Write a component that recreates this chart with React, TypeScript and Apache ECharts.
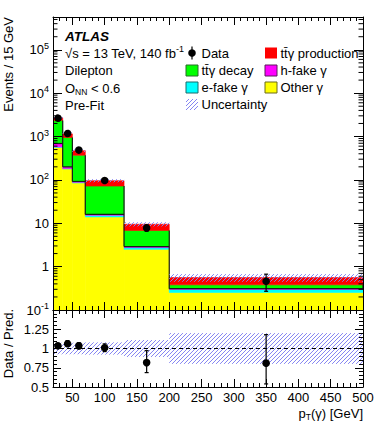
import React, { useEffect, useRef } from "react";
import * as echarts from "echarts";

// ---------- values ----------
const binEdges = [20, 35, 50, 70, 130, 200, 500];
const otherGamma = [560, 178, 85, 14, 2.5, 0.254];
const eFakeGamma = [15, 5, 3, 1.2, 0.25, 0.044];
const hFakeGamma = [115, 17, 4, 0.8, 0.15, 0.012];
const ttgDecay = [1660, 750, 278, 56, 3.9, 0.07];
const ttgProduction = [350, 200, 100, 24, 2.7, 0.18];
const dataX = [27.5, 42.5, 60, 100, 165, 350];
const dataY = [2830, 1230, 487, 97, 7.8, 0.46];
const dataErrUp = [53, 35, 19, 5, 1.35, 0.21];
const dataErrDown = [53, 35, 19, 5, 1.25, 0.19];
const relUncertainty = [0.075, 0.075, 0.075, 0.08, 0.11, 0.2];
const ratioY = [1.047, 1.073, 1.035, 1.01, 0.817, 0.81];
const ratioErrUp = [0.02, 0.03, 0.04, 0.05, 0.155, 0.37];
const ratioErrDown = [0.02, 0.03, 0.04, 0.05, 0.13, 0.27];
const xTickValues = [50, 100, 150, 200, 250, 300, 350, 400, 450, 500];
const ratioTickLabels = ["0.5", "0.75", "1", "1.25"];

const X_MIN = 20;
const X_MAX = 500;
const Y_MIN = 0.1;
const Y_MAX = 5.7e5;
const R_MIN = 0.5;
const R_MAX = 1.5;

const FONT = "'Liberation Sans', Arial, Helvetica, sans-serif";
const HATCH = "#8585f2";

const components = [
  { name: "Other γ", values: otherGamma, color: "#ffff00" },
  { name: "e-fake γ", values: eFakeGamma, color: "#00ffff" },
  { name: "h-fake γ", values: hFakeGamma, color: "#ff00ff" },
  { name: "tt̄γ decay", values: ttgDecay, color: "#00ff00" },
  { name: "tt̄γ production", values: ttgProduction, color: "#ff0000" },
];

const cum: number[][] = [];
components.forEach((c, ci) => {
  cum.push(c.values.map((v, i) => v + (ci ? cum[ci - 1][i] : 0)));
});
const totals = cum[cum.length - 1];

function hatchLines(x0: number, y0: number, x1: number, y1: number, sp: number) {
  const out: any[] = [];
  const start = Math.ceil((x0 + y0) / sp) * sp;
  for (let c = start; c <= x1 + y1; c += sp) {
    const xa = Math.max(x0, c - y1);
    const xb = Math.min(x1, c - y0);
    if (xb > xa)
      out.push({
        type: "line",
        shape: { x1: xa, y1: c - xa, x2: xb, y2: c - xb },
        style: { stroke: HATCH, lineWidth: 1 },
      });
  }
  return out;
}

function rectSeries(color: string, items: number[][], xi: number, yi: number, z: number) {
  return {
    type: "custom",
    xAxisIndex: xi,
    yAxisIndex: yi,
    z,
    silent: true,
    clip: true,
    data: items,
    encode: { x: [0, 1], y: [2, 3] },
    renderItem: (_p: any, api: any) => {
      const a = api.coord([api.value(0), api.value(3)]);
      const b = api.coord([api.value(1), api.value(2)]);
      return {
        type: "rect",
        shape: { x: a[0], y: a[1], width: b[0] - a[0], height: b[1] - a[1] },
        style: { fill: color, stroke: color, lineWidth: 0.6 },
      };
    },
  };
}

function hatchSeries(items: number[][], xi: number, yi: number) {
  return {
    type: "custom",
    xAxisIndex: xi,
    yAxisIndex: yi,
    z: 4,
    silent: true,
    clip: true,
    data: items,
    encode: { x: [0, 1], y: [2, 3] },
    renderItem: (_p: any, api: any) => {
      const a = api.coord([api.value(0), api.value(3)]);
      const b = api.coord([api.value(1), api.value(2)]);
      return { type: "group", children: hatchLines(a[0], a[1], b[0], b[1], 4) };
    },
  };
}

function pointSeries(xs: number[], ys: number[], up: number[], dn: number[], xi: number, yi: number) {
  return {
    type: "custom",
    xAxisIndex: xi,
    yAxisIndex: yi,
    z: 6,
    silent: true,
    clip: false,
    data: xs.map((x, i) => [x, ys[i], ys[i] + up[i], ys[i] - dn[i]]),
    encode: { x: 0, y: 1 },
    renderItem: (_p: any, api: any) => {
      const c = api.coord([api.value(0), api.value(1)]);
      const t = api.coord([api.value(0), api.value(2)]);
      const b = api.coord([api.value(0), api.value(3)]);
      const st = () => ({ stroke: "#000", lineWidth: 1.2 });
      return {
        type: "group",
        children: [
          { type: "line", shape: { x1: c[0], y1: t[1], x2: c[0], y2: b[1] }, style: st() },
          { type: "line", shape: { x1: c[0] - 2, y1: t[1], x2: c[0] + 2, y2: t[1] }, style: st() },
          { type: "line", shape: { x1: c[0] - 2, y1: b[1], x2: c[0] + 2, y2: b[1] }, style: st() },
          { type: "circle", shape: { cx: c[0], cy: c[1], r: 3.8 }, style: { fill: "#000" } },
        ],
      };
    },
  };
}

function logLabel(v: number) {
  const l = Math.log10(v);
  const k = Math.round(l);
  if (Math.abs(l - k) > 1e-6) return "";
  if (k === 0) return "{b|1}";
  if (k === 1) return "{b|10}";
  return "{b|10}{s|" + k + "}";
}

function ratioLabel(v: number) {
  const f = ratioTickLabels.find((s) => Math.abs(parseFloat(s) - v) < 1e-9);
  return f || "";
}

const axisLineStyle = { color: "#000", width: 1 };
const labelRich = {
  b: { fontSize: 13, fontFamily: FONT, color: "#000" },
  s: { fontSize: 9, fontFamily: FONT, color: "#000", padding: [0, 0, 8, 0] },
};

function xAxisDef(grid: number, pos: string, major: boolean, labels: boolean) {
  const def: any = {
    type: "value",
    gridIndex: grid,
    position: pos,
    min: X_MIN,
    max: X_MAX,
    z: 10,
    splitLine: { show: false },
    axisLine: major ? { show: true, onZero: false, lineStyle: axisLineStyle } : { show: false, onZero: false },
    axisTick: major
      ? { show: true, inside: true, length: 8, customValues: xTickValues, lineStyle: axisLineStyle }
      : { show: true, inside: true, length: 4, lineStyle: axisLineStyle },
    axisLabel: labels
      ? { show: true, customValues: xTickValues, margin: 4, fontSize: 13, fontFamily: FONT, color: "#000" }
      : { show: false },
  };
  if (!major) def.interval = 10;
  return def;
}

function yLogDef(pos: string, labels: boolean) {
  return {
    type: "log",
    logBase: 10,
    gridIndex: 0,
    position: pos,
    min: Y_MIN,
    max: Y_MAX,
    z: 10,
    splitLine: { show: false },
    axisLine: { show: true, onZero: false, lineStyle: axisLineStyle },
    axisTick: { show: true, inside: true, length: 9, lineStyle: axisLineStyle },
    axisLabel: labels
      ? { show: true, margin: 4, formatter: logLabel, rich: labelRich, fontFamily: FONT, color: "#000" }
      : { show: false },
  };
}

function yRatioDef(pos: string, labels: boolean) {
  return {
    type: "value",
    gridIndex: 1,
    position: pos,
    min: R_MIN,
    max: R_MAX,
    interval: 0.25,
    z: 10,
    splitLine: { show: false },
    minorSplitLine: { show: false },
    axisLine: { show: true, onZero: false, lineStyle: axisLineStyle },
    axisTick: { show: true, inside: true, length: 8, lineStyle: axisLineStyle },
    minorTick: { show: true, splitNumber: 5, length: 4, lineStyle: axisLineStyle },
    axisLabel: labels
      ? { show: true, margin: 4, formatter: ratioLabel, fontSize: 13, fontFamily: FONT, color: "#000" }
      : { show: false },
  };
}

function buildOption() {
  const series: any[] = [];
  // stacked histogram
  components.forEach((c, ci) => {
    const items = c.values.map((_v, i) => [
      binEdges[i],
      binEdges[i + 1],
      ci ? cum[ci - 1][i] : Y_MIN,
      cum[ci][i],
    ]);
    series.push(rectSeries(c.color, items, 0, 0, 2));
  });
  // dark outlines (h-fake top step + bin edge verticals)
  const magTop = cum[2];
  const greenTop = cum[3];
  series.push({
    type: "custom",
    xAxisIndex: 0,
    yAxisIndex: 0,
    z: 3,
    silent: true,
    clip: true,
    data: magTop.map((m, i) => [
      binEdges[i],
      binEdges[i + 1],
      m,
      greenTop[i],
      i < magTop.length - 1 ? magTop[i + 1] : m,
    ]),
    encode: { x: [0, 1], y: [2, 3] },
    renderItem: (_p: any, api: any) => {
      const a = api.coord([api.value(0), api.value(2)]);
      const b = api.coord([api.value(1), api.value(3)]);
      const n = api.coord([api.value(1), api.value(4)]);
      return {
        type: "group",
        children: [
          { type: "line", shape: { x1: a[0], y1: a[1], x2: b[0], y2: a[1] }, style: { stroke: "#1a1a1a", lineWidth: 1.2 } },
          { type: "line", shape: { x1: b[0], y1: b[1], x2: b[0], y2: n[1] }, style: { stroke: "#1a1a1a", lineWidth: 1.2 } },
        ],
      };
    },
  });
  // uncertainty band (upper)
  series.push(
    hatchSeries(
      totals.map((t, i) => [binEdges[i], binEdges[i + 1], t * (1 - relUncertainty[i]), t * (1 + relUncertainty[i])]),
      0,
      0
    )
  );
  // minor log ticks
  const minorVals: number[] = [];
  for (let k = -1; k <= 5; k++) for (let m = 2; m <= 9; m++) {
    const v = m * Math.pow(10, k);
    if (v < Y_MAX) minorVals.push(v);
  }
  series.push({
    type: "custom",
    xAxisIndex: 0,
    yAxisIndex: 0,
    z: 11,
    silent: true,
    clip: false,
    data: minorVals.map((v) => [X_MIN, v]),
    encode: { x: 0, y: 1 },
    renderItem: (_p: any, api: any) => {
      const L = api.coord([X_MIN, api.value(1)]);
      const R = api.coord([X_MAX, api.value(1)]);
      return {
        type: "group",
        children: [
          { type: "line", shape: { x1: L[0], y1: L[1], x2: L[0] + 4.5, y2: L[1] }, style: { stroke: "#000", lineWidth: 1 } },
          { type: "line", shape: { x1: R[0] - 4.5, y1: R[1], x2: R[0], y2: R[1] }, style: { stroke: "#000", lineWidth: 1 } },
        ],
      };
    },
  });
  // data points (upper)
  series.push(pointSeries(dataX, dataY, dataErrUp, dataErrDown, 0, 0));

  // ratio panel
  series.push(
    hatchSeries(
      relUncertainty.map((u, i) => [binEdges[i], binEdges[i + 1], 1 - u, 1 + u]),
      4,
      2
    )
  );
  series.push({
    type: "line",
    xAxisIndex: 4,
    yAxisIndex: 2,
    z: 5,
    silent: true,
    symbol: "none",
    data: [[X_MIN, 1], [X_MAX, 1]],
    lineStyle: { color: "#000", width: 1, type: [4, 3] },
  });
  series.push(pointSeries(dataX, ratioY, ratioErrUp, ratioErrDown, 4, 2));

  const txt = (text: string, x: number, y: number, extra: any = {}) => ({
    type: "text",
    x,
    y,
    silent: true,
    style: {
      text,
      fill: "#000",
      fontSize: 13,
      fontFamily: FONT,
      verticalAlign: "middle",
      align: "left",
      ...extra,
    },
  });
  const box = (x: number, y: number, fill: string, stroke: string | null) => ({
    type: "rect",
    silent: true,
    shape: { x, y, width: 12, height: 11 },
    style: stroke ? { fill, stroke, lineWidth: 1 } : { fill },
  });

  const graphic: any[] = [
    txt("ATLAS", 65, 36, { fontWeight: "bold", fontStyle: "italic", fontSize: 13.5 }),
    txt("√s = 13 TeV, 140 fb{s|-1}", 65, 53, {
      rich: { s: { fontSize: 9, fontFamily: FONT, fill: "#000", padding: [0, 0, 8, 0] } },
    }),
    txt("Dilepton", 65, 70.5),
    txt("O{u|NN} < 0.6", 65, 88, {
      rich: { u: { fontSize: 8.5, fontFamily: FONT, fill: "#000", padding: [7, 0, 0, 0] } },
    }),
    txt("Pre-Fit", 65, 105),
    // legend column 1
    { type: "line", silent: true, shape: { x1: 192, y1: 46.5, x2: 192, y2: 59.5 }, style: { stroke: "#000", lineWidth: 1.2 } },
    { type: "circle", silent: true, shape: { cx: 192, cy: 53, r: 3.8 }, style: { fill: "#000" } },
    txt("Data", 201.5, 53),
    box(186, 65, "#00ff00", "#2a6a2a"),
    txt("tt̄γ decay", 201.5, 70.5),
    box(186, 82, "#00ffff", "#1a6a6a"),
    txt("e-fake γ", 201.5, 87.5),
    { type: "group", silent: true, children: hatchLines(186, 99, 198, 110, 4) },
    txt("Uncertainty", 201.5, 104.5),
    // legend column 2
    box(265, 47.5, "#ff0000", null),
    txt("tt̄γ production", 280.5, 53),
    box(265, 65, "#ff00ff", "#5a1a5a"),
    txt("h-fake γ", 280.5, 70.5),
    box(265, 82, "#ffff00", "#6a6a1a"),
    txt("Other γ", 280.5, 87.5),
    // axis titles
    {
      type: "text",
      x: 8,
      y: 17,
      rotation: Math.PI / 2,
      silent: true,
      style: { text: "Events / 15 GeV", fill: "#000", fontSize: 13, fontFamily: FONT, align: "right", verticalAlign: "middle" },
    },
    {
      type: "text",
      x: 8,
      y: 343.5,
      rotation: Math.PI / 2,
      silent: true,
      style: { text: "Data / Pred.", fill: "#000", fontSize: 13, fontFamily: FONT, align: "center", verticalAlign: "middle" },
    },
    txt("p{u|T}(γ) [GeV]", 363, 413, {
      align: "right",
      rich: { u: { fontSize: 8.5, fontFamily: FONT, fill: "#000", padding: [7, 0, 0, 0] } },
    }),
  ];

  return {
    animation: false,
    backgroundColor: "#fff",
    grid: [
      { left: 53, top: 17, width: 310, height: 293 },
      { left: 53, top: 310, width: 310, height: 77 },
    ],
    xAxis: [
      xAxisDef(0, "bottom", true, false),
      xAxisDef(0, "bottom", false, false),
      xAxisDef(0, "top", true, false),
      xAxisDef(0, "top", false, false),
      xAxisDef(1, "bottom", true, true),
      xAxisDef(1, "bottom", false, false),
      xAxisDef(1, "top", true, false),
      xAxisDef(1, "top", false, false),
    ],
    yAxis: [yLogDef("left", true), yLogDef("right", false), yRatioDef("left", true), yRatioDef("right", false)],
    series,
    graphic,
  };
}

export default function App() {
  const ref = useRef<HTMLDivElement>(null);
  useEffect(() => {
    if (!ref.current) return;
    const chart = echarts.init(ref.current, null, { renderer: "svg" });
    chart.setOption(buildOption() as any);
    return () => chart.dispose();
  }, []);
  return (
    <div
      ref={ref}
      style={{ position: "absolute", left: 0, top: 0, width: 382, height: 431, background: "#fff" }}
    />
  );
}
